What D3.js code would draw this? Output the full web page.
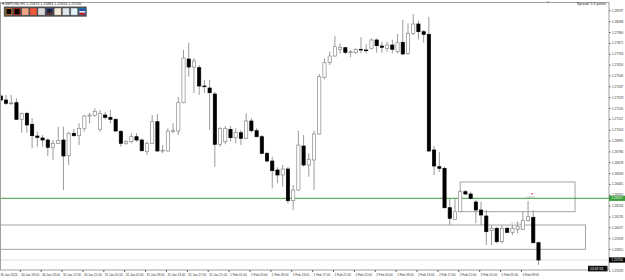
<!DOCTYPE html>
<html>
<head>
<meta charset="utf-8">
<script src="https://cdn.jsdelivr.net/npm/d3@7"></script>
<style>
html, body { margin: 0; padding: 0; background: #fff; }
svg { display: block; font-family: "Liberation Sans", Arial, sans-serif; }
</style>
</head>
<body>
<svg id="chart" width="625" height="280"></svg>
<script>
// GBPUSD H1 candles, index 0 = 30 Jan 05:00
const opens = [1.27340,1.27300,1.27267,1.27273,1.27107,1.27167,1.27057,1.26940,1.26920,1.26900,
  1.26827,1.26867,1.26900,1.26743,1.26967,1.26943,1.27017,1.27140,1.27147,1.27007,
  1.27150,1.27127,1.27107,1.26987,1.26867,1.26883,1.26933,1.26900,1.26783,1.26867,
  1.27083,1.26790,1.26790,1.26990,1.26990,1.27273,1.27710,1.27630,1.27623,1.27440,
  1.27420,1.27360,1.26857,1.26883,1.27007,1.26923,1.26973,1.26917,1.27090,1.26993,
  1.26933,1.26767,1.26690,1.26600,1.26550,1.26610,1.26293,1.26400,1.26840,1.26650,
  1.26700,1.26960,1.27527,1.27673,1.27740,1.27807,1.27823,1.27773,1.27773,1.27807,
  1.27800,1.27817,1.27900,1.27840,1.27817,1.27850,1.27783,1.27877,1.27767,1.27967,
  1.28060,1.27983,1.27957,1.26800,1.26633,1.26617,1.26223,1.26107,1.26183,1.26383,
  1.26360,1.26280,1.26200,1.26140,1.25993,1.26017,1.25883,1.26017,1.25977,1.26007,
  1.26007,1.26093,1.26127,1.25873];
const highs = [1.27360,1.27350,1.27350,1.27317,1.27173,1.27183,1.27117,1.26983,1.26950,1.26917,
  1.26900,1.27033,1.27033,1.26983,1.27010,1.27067,1.27150,1.27173,1.27217,1.27200,
  1.27183,1.27200,1.27117,1.27000,1.26900,1.26967,1.26967,1.26917,1.26883,1.27150,
  1.27160,1.26850,1.27017,1.27067,1.27333,1.27800,1.27873,1.27720,1.27650,1.27500,
  1.27500,1.27380,1.27027,1.27040,1.27040,1.27017,1.27000,1.27167,1.27117,1.27017,
  1.26950,1.26783,1.26733,1.26627,1.26650,1.26630,1.26450,1.26993,1.26950,1.26767,
  1.26993,1.27560,1.27717,1.27783,1.27940,1.27867,1.27833,1.27800,1.27817,1.27927,
  1.27860,1.27917,1.27917,1.27883,1.27883,1.27900,1.27960,1.28100,1.28067,1.28160,
  1.28093,1.28000,1.28133,1.26840,1.26780,1.26633,1.26313,1.26313,1.26400,1.26400,
  1.26383,1.26300,1.26283,1.26200,1.26050,1.26033,1.26050,1.26033,1.26050,1.26083,
  1.26183,1.26290,1.26200,1.25883];
const lows = [1.27290,1.27250,1.27250,1.27100,1.26973,1.26973,1.26817,1.26833,1.26833,1.26740,
  1.26700,1.26860,1.26400,1.26650,1.26933,1.26850,1.26983,1.27067,1.27133,1.26983,
  1.27107,1.27067,1.26983,1.26833,1.26850,1.26867,1.26883,1.26783,1.26750,1.26860,
  1.26783,1.26767,1.26785,1.26967,1.26950,1.27267,1.27533,1.27370,1.27350,1.27370,
  1.27000,1.26633,1.26833,1.26857,1.26883,1.26867,1.26850,1.26912,1.26973,1.26927,
  1.26760,1.26673,1.26417,1.26467,1.26433,1.26267,1.26200,1.26390,1.26633,1.26533,
  1.26400,1.26955,1.27507,1.27650,1.27733,1.27767,1.27760,1.27727,1.27760,1.27767,
  1.27767,1.27807,1.27773,1.27773,1.27783,1.27767,1.27767,1.27750,1.27750,1.27950,
  1.27907,1.27873,1.26780,1.26550,1.26580,1.26213,1.26050,1.26100,1.26177,1.26350,
  1.26307,1.26067,1.26050,1.25850,1.25850,1.25867,1.25867,1.25967,1.25950,1.25967,
  1.26000,1.26083,1.25867,1.25650];
const closes = [1.27300,1.27267,1.27270,1.27107,1.27167,1.27050,1.26943,1.26927,1.26900,1.26827,
  1.26867,1.26893,1.26740,1.26967,1.26943,1.27017,1.27140,1.27150,1.27187,1.27167,
  1.27127,1.27107,1.26990,1.26867,1.26883,1.26933,1.26900,1.26793,1.26867,1.27083,
  1.26790,1.26797,1.26990,1.26993,1.27273,1.27720,1.27630,1.27690,1.27440,1.27433,
  1.27373,1.26857,1.27017,1.27017,1.26923,1.26977,1.26917,1.27090,1.26993,1.26933,
  1.26767,1.26690,1.26593,1.26550,1.26610,1.26293,1.26400,1.26850,1.26650,1.26707,
  1.26960,1.27533,1.27673,1.27740,1.27833,1.27827,1.27777,1.27783,1.27807,1.27803,
  1.27797,1.27900,1.27843,1.27827,1.27850,1.27807,1.27873,1.27760,1.27967,1.28060,
  1.27983,1.27957,1.26790,1.26640,1.26617,1.26223,1.26117,1.26183,1.26383,1.26360,
  1.26317,1.26200,1.26150,1.25983,1.26017,1.25883,1.26017,1.25977,1.26017,1.26033,
  1.26093,1.26133,1.25873,1.25700];

const priceTicks = [1.28197,1.28088,1.27980,1.27871,1.27763,1.27654,1.27546,1.27437,1.27329,1.27220,
  1.27112,1.27003,1.26895,1.26786,1.26678,1.26569,1.26461,1.26352,1.26244,1.26135,
  1.26027,1.25918,1.25810,1.25701,1.25593];
const timeTickIndex = [0,4,8,12,16,20,24,28,32,36,40,44,48,52,56,60,64,68,72,76,80,84,88,92,96,100];
const timeTickLabels = ["30 Jan 2024","30 Jan 09:00","30 Jan 13:00","30 Jan 17:00","30 Jan 21:00",
  "31 Jan 01:00","31 Jan 05:00","31 Jan 09:00","31 Jan 13:00","31 Jan 17:00","31 Jan 21:00",
  "1 Feb 01:00","1 Feb 05:00","1 Feb 09:00","1 Feb 13:00","1 Feb 17:00","1 Feb 21:00",
  "2 Feb 01:00","2 Feb 05:00","2 Feb 09:00","2 Feb 13:00","2 Feb 17:00","2 Feb 21:00",
  "5 Feb 01:00","5 Feb 05:00","5 Feb 09:00"];

// drawn objects on the chart
const greenLevel = 1.26317;
const zoneStart = [88, -10];
const zoneEnd = [110, 112];
const zoneTop = [1.26480, 1.26050];
const zoneBottom = [1.26183, 1.25807];
const swatchColors = ["#000", "#000", "#f4a58a", "#f0583a", "#d9d9d9", "#1c2233", "#f6ead9", "#e3e7ef", "#dff6fb", "#1d4fa0"];
const swatchBorders = ["#d9822b", "#d42020", "#f4a58a", "#f0583a", "#d9d9d9", "#3a4a8a", "#f6ead9", "#e3e7ef", "#dff6fb", "#1d7fd0"];

const candles = opens.map((o, i) => ({ i, o, h: highs[i], l: lows[i], c: closes[i] }));
const last = candles[candles.length - 1];

const svg = d3.select("#chart");
const plot = { left: 1, right: 609, top: 3, bottom: 270 };

const x = d3.scaleLinear().domain([0, 103]).range([0.8, 538.5]);
const y = d3.scaleLinear().domain([1.256, 1.2827]).range([plot.bottom, plot.top]);

svg.append("defs").append("clipPath").attr("id", "clip")
  .append("rect")
  .attr("x", plot.left).attr("y", plot.top)
  .attr("width", plot.right - plot.left).attr("height", plot.bottom - plot.top);

const g = svg.append("g").attr("clip-path", "url(#clip)");

// bid line
g.append("line")
  .attr("x1", plot.left).attr("x2", plot.right)
  .attr("y1", y(last.c)).attr("y2", y(last.c))
  .attr("stroke", "#d6d6d6").attr("stroke-width", 0.8);

// zones
g.selectAll("rect.zone").data(zoneTop).enter().append("rect")
  .attr("class", "zone")
  .attr("x", (d, k) => x(zoneStart[k]))
  .attr("y", d => y(d))
  .attr("width", (d, k) => x(zoneEnd[k]) - x(zoneStart[k]))
  .attr("height", (d, k) => y(zoneBottom[k]) - y(d))
  .attr("fill", "none").attr("stroke", "#9a9a9a").attr("stroke-width", 0.9);

// green level
g.append("line")
  .attr("x1", plot.left).attr("x2", plot.right)
  .attr("y1", y(greenLevel)).attr("y2", y(greenLevel))
  .attr("stroke", "#3a9f3a").attr("stroke-width", 1);

// wicks
g.selectAll("line.wick").data(candles).enter().append("line")
  .attr("class", "wick")
  .attr("x1", d => x(d.i)).attr("x2", d => x(d.i))
  .attr("y1", d => y(d.h)).attr("y2", d => y(d.l))
  .attr("stroke", "#8f8f8f").attr("stroke-width", 0.9);

// bodies
g.selectAll("rect.body").data(candles).enter().append("rect")
  .attr("class", "body")
  .attr("x", d => x(d.i) - 1.6)
  .attr("width", 3.2)
  .attr("y", d => y(Math.max(d.o, d.c)))
  .attr("height", d => Math.max(0.7, Math.abs(y(d.o) - y(d.c))))
  .attr("fill", d => d.c >= d.o ? "#fff" : "#000")
  .attr("stroke", d => d.c >= d.o ? "#8a8a8a" : "#000")
  .attr("stroke-width", 0.7);

// small trade marks near the last candles
g.append("rect")
  .attr("x", x(98) - 0.5).attr("y", y(1.2607)).attr("width", x(100) - x(98) - 1.5).attr("height", 5.5)
  .attr("fill", "none").attr("stroke", "#aaa").attr("stroke-width", 0.6).attr("stroke-dasharray", "1,1");
g.append("line")
  .attr("x1", x(101) - 1.3).attr("x2", x(102) + 1.7)
  .attr("y1", y(1.2633)).attr("y2", y(1.2633))
  .attr("stroke", "#9a9a9a").attr("stroke-width", 0.6);
g.append("rect")
  .attr("x", x(102) - 1.8).attr("y", y(1.2637)).attr("width", 1.4).attr("height", 1.4)
  .attr("fill", "#e03030");

// frame
svg.append("rect")
  .attr("x", 0.5).attr("y", plot.top - 0.5)
  .attr("width", plot.right - 0.5).attr("height", plot.bottom - plot.top + 0.5)
  .attr("fill", "none").attr("stroke", "#a0a0a0").attr("stroke-width", 1);

// shift marker
svg.append("path")
  .attr("d", d3.line()([[546.5, 1.5], [549.5, 1.5], [548, 3.5]]))
  .attr("fill", "#9a9a9a");

// price axis
const yAxis = svg.append("g")
  .attr("transform", `translate(${plot.right},0)`)
  .call(d3.axisRight(y).tickValues(priceTicks).tickSize(1.6).tickFormat(d3.format(".5f")));
yAxis.select(".domain").remove();
yAxis.selectAll("line").attr("stroke", "#666");
yAxis.selectAll("text")
  .attr("x", 3).attr("fill", "#333")
  .style("font-size", "3.1px").style("font-family", "Liberation Sans, Arial, sans-serif");

// time axis
const xAxis = svg.append("g")
  .attr("transform", `translate(0,${plot.bottom})`)
  .call(d3.axisBottom(x).tickValues(timeTickIndex).tickSize(2)
    .tickFormat((d, k) => timeTickLabels[k]));
xAxis.select(".domain").remove();
xAxis.selectAll(".tick").attr("transform", d => `translate(${x(d) - 1.4},0)`);
xAxis.selectAll("line").attr("stroke", "#666");
xAxis.selectAll("text")
  .attr("x", 1).attr("y", 3).attr("dy", "0.9em")
  .attr("text-anchor", "start").attr("fill", "#333")
  .style("font-size", "3.1px").style("font-family", "Liberation Sans, Arial, sans-serif");

// price tags
const tag = (price, bg, fg) => {
  const t = svg.append("g").attr("transform", `translate(${plot.right},${y(price)})`);
  t.append("rect").attr("x", 0).attr("y", -2.6).attr("width", 16).attr("height", 5.2).attr("fill", bg);
  t.append("text").attr("x", 2.5).attr("y", 1.1).attr("fill", fg)
    .style("font-size", "3.1px").text(d3.format(".5f")(price));
};
tag(greenLevel, "#3a9f3a", "#fff");
tag(last.c, "#000", "#fff");

// header
svg.append("text").attr("x", 1.5).attr("y", 5.2).attr("fill", "#222")
  .style("font-size", "3.6px")
  .text(`▾ GBPUSD,H1  ${d3.format(".5f")(last.o)} ${d3.format(".5f")(last.h)} ${d3.format(".5f")(last.l)} ${d3.format(".5f")(last.c)}`);
svg.append("text").attr("x", 606).attr("y", 5.4).attr("text-anchor", "end").attr("fill", "#222")
  .style("font-size", "3.6px").text("Spread: 5.5 points");

// colour toolbar
const bar = svg.append("g").attr("transform", "translate(4,6.8)");
bar.append("rect").attr("width", 82.7).attr("height", 9.8).attr("fill", "#4d4d4d").attr("stroke", "#7a7a7a").attr("stroke-width", 0.5);
bar.selectAll("rect.sw").data(swatchColors).enter().append("rect")
  .attr("class", "sw")
  .attr("x", (d, k) => 2 + k * 8.15).attr("y", 1.9)
  .attr("width", 5.8).attr("height", 6)
  .attr("fill", d => d)
  .attr("stroke", (d, k) => swatchBorders[k]).attr("stroke-width", 0.8);
bar.append("rect").attr("x", 2 + 5 * 8.15).attr("y", 5.9).attr("width", 5.8).attr("height", 2).attr("fill", "#6b3020");
bar.append("rect").attr("x", 2 + 9 * 8.15).attr("y", 5.9).attr("width", 5.8).attr("height", 2).attr("fill", "#d01818");
bar.append("rect").attr("x", 2 + 9 * 8.15).attr("y", 4.3).attr("width", 5.8).attr("height", 1.4).attr("fill", "#fff");

// timer box
svg.append("rect").attr("x", 588).attr("y", 265.8).attr("width", 19.5).attr("height", 5.6).attr("fill", "#111");
svg.append("text").attr("x", 590).attr("y", 269.8).attr("fill", "#fff")
  .style("font-size", "3.4px").text("12:07:53");
</script>
</body>
</html>
